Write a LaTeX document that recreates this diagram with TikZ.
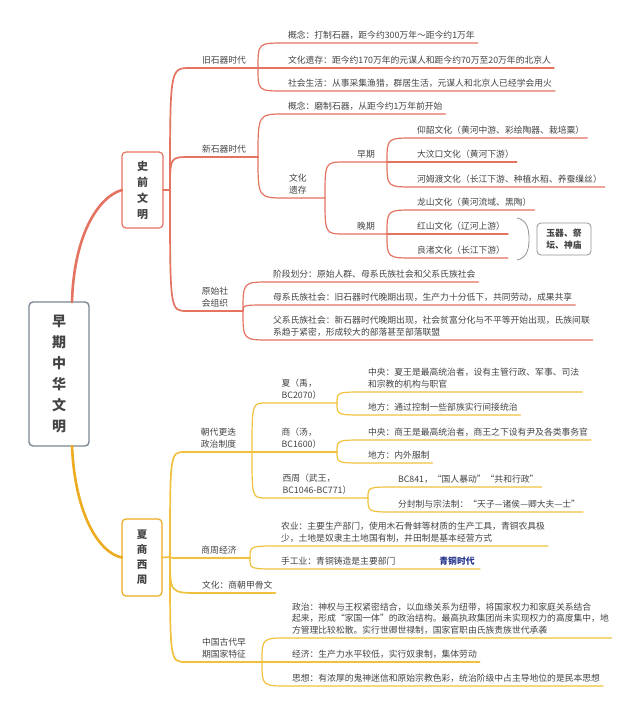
\documentclass[tikz,border=0pt]{standalone}
\usepackage{fontspec}
\setmainfont{Noto Sans CJK SC}
\usetikzlibrary{calc}
\definecolor{redc}{RGB}{229,115,98}
\definecolor{yelc}{RGB}{241,193,62}
\definecolor{orac}{RGB}{237,172,32}
\definecolor{grayc}{RGB}{125,135,150}
\definecolor{txt}{RGB}{68,68,68}
\definecolor{bluec}{RGB}{38,52,140}
\newcommand\leaffont{\fontsize{8.8}{11.5}\selectfont}
\newcommand\twig[3][]{\draw[#1] (#2) .. controls (#2 |- #3.south west) .. (#3.south west) -- (#3.south east);}
\tikzset{
  leaf/.style={anchor=south west, inner xsep=3pt, inner ysep=4pt, outer sep=0pt, align=left, text=txt, font=\leaffont},
  mid/.style={leaf, inner xsep=0pt, align=center},
  box/.style={draw, rounded corners=4pt, fill=white, outer sep=0pt, text=txt, align=center},
  redA/.style={draw=redc, line width=1.7pt, line cap=round},
  redB/.style={draw=redc, line width=1.2pt, line cap=round},
  yelA/.style={draw=yelc, line width=1.7pt, line cap=round},
  yelB/.style={draw=yelc, line width=1.2pt, line cap=round}
}
\begin{document}
\begin{tikzpicture}[x=1pt,y=-1pt]
\fill[white] (0,0) rectangle (640,715);
\useasboundingbox (0,0) rectangle (640,715);

\node[box, draw=grayc, line width=1.4pt, minimum width=60pt, minimum height=144pt, font=\fontsize{14}{21}\selectfont\bfseries] (root) at (59,374) {早\\期\\中\\华\\文\\明};
\node[box, draw=redc, line width=1.2pt, minimum width=41pt, minimum height=76pt, font=\fontsize{11}{16}\selectfont\bfseries] (sq) at (142.5,190) {史\\前\\文\\明};
\node[box, draw=orac, line width=1.2pt, minimum width=40pt, minimum height=77pt, font=\fontsize{10.5}{15}\selectfont\bfseries] (xs) at (142,557.5) {夏\\商\\西\\周};
\coordinate (sqS) at (170,190);
\coordinate (xsS) at (170,557);

\node[mid, minimum width=68pt] (jiu) at (190,68) {旧石器时代};
\node[mid, minimum width=68pt] (xin) at (190,157) {新石器时代};
\node[mid, minimum width=56pt] (ys) at (187,311) {原始社\\会组织};
\node[leaf] (j1) at (285,43) {概念：打制石器，距今约300万年～距今约1万年};
\node[leaf] (j2) at (285,68) {文化遗存：距今约170万年的元谋人和距今约70万至20万年的北京人};
\node[leaf] (j3) at (285,91) {社会生活：从事采集渔猎，群居生活，元谋人和北京人已经学会用火};
\node[leaf] (x1) at (285,114) {概念：磨制石器，从距今约1万年前开始};
\node[leaf, text width=33pt] (wh) at (286,198) {文化\\遗存};
\node[mid, minimum width=42pt] (zao) at (345,162) {早期};
\node[mid, minimum width=42pt] (wan) at (345,234) {晚期};
\node[leaf] (z1) at (414,138) {仰韶文化（黄河中游、彩绘陶器、栽培粟）};
\node[leaf] (z2) at (414,162) {大汶口文化（黄河下游）};
\node[leaf] (z3) at (414,187) {河姆渡文化（长江下游、种植水稻、养蚕缫丝）};
\node[leaf] (w1) at (414,210) {龙山文化（黄河流域、黑陶）};
\node[leaf] (w2) at (414,234) {红山文化（辽河上游）};
\node[leaf] (w3) at (414,258) {良渚文化（长江下游）};
\node[box, draw=gray!85, line width=0.8pt, minimum width=54pt, minimum height=32pt, font=\leaffont\bfseries] (yq) at (564,239) {玉器、祭\\坛、神庙};
\node[leaf] (y1) at (270,282) {阶段划分：原始人群、母系氏族社会和父系氏族社会};
\node[leaf] (y2) at (270,305) {母系氏族社会：旧石器时代晚期出现，生产力十分低下，共同劳动，成果共享};
\node[leaf] (y3) at (270,340) {父系氏族社会：新石器时代晚期出现，社会贫富分化与不平等开始出现，氏族间联\\系趋于紧密，形成较大的部落甚至部落联盟};

\node[mid, minimum width=67pt] (cd) at (185,452) {朝代更迭\\政治制度};
\node[mid, align=left, minimum width=71pt] (xia) at (266,403) {夏（禹，\\BC2070）};
\node[mid, align=left, minimum width=71pt] (shang) at (266,452) {商（汤，\\BC1600）};
\node[mid, align=left, minimum width=102pt] (xz) at (266,498) {西周（武王，\\BC1046-BC771）};
\node[leaf] (xa1) at (365,392) {中央：夏王是最高统治者，设有主管行政、军事、司法\\和宗教的机构与职官};
\node[leaf] (xa2) at (365,415) {地方：通过控制一些部族实行间接统治};
\node[leaf] (sa1) at (365,440) {中央：商王是最高统治者，商王之下设有尹及各类事务官};
\node[leaf] (sa2) at (365,463) {地方：内外服制};
\node[leaf] (za1) at (395,487) {BC841，“国人暴动”“共和行政”};
\node[leaf] (za2) at (395,512) {分封制与宗法制：“天子—诸侯—卿大夫—士”};
\node[mid, minimum width=62pt] (jj) at (188,558) {商周经济};
\node[leaf] (jj1) at (278,546) {农业：主要生产部门，使用木石骨蚌等材质的生产工具，青铜农具极\\少，土地是奴隶主土地国有制，井田制是基本经营方式};
\node[leaf, text width=196pt] (jj2) at (278,569) {手工业：青铜铸造是主要部门};
\node[font=\leaffont\bfseries, text=bluec] (qt) at (457,561) {青铜时代};
\node[leaf] (wh2) at (199,593) {文化：商朝甲骨文};
\node[mid, minimum width=76pt] (tz) at (186,662) {中国古代早\\期国家特征};
\node[leaf] (t1) at (289,638) {政治：神权与王权紧密结合，以血缘关系为纽带，将国家权力和家庭关系结合\\起来，形成“家国一体”的政治结构。最高执政集团尚未实现权力的高度集中，地\\方管理比较松散。实行世卿世禄制，国家官职由氏族贵族世代承袭};
\node[leaf] (t2) at (289,662) {经济：生产力水平较低，实行奴隶制，集体劳动};
\node[leaf] (t3) at (289,686) {思想：有浓厚的鬼神迷信和原始宗教色彩，统治阶级中占主导地位的是民本思想};

\draw[redc, line width=2.6pt, line cap=round] ($(root.north)+(13,0)$) .. controls +(2,-70) and +(-22,6) .. (sq.west);
\draw[orac, line width=2.6pt, line cap=round] ($(root.south)+(13,0)$) .. controls +(3,70) and +(-22,-4) .. (xs.west);
\draw[redA] (sq.east) -- (sqS);
\twig[redA]{sqS}{jiu}
\twig[redA]{sqS}{xin}
\twig[redA]{sqS}{ys}
\twig[redB]{jiu.south east}{j1}
\twig[redB]{jiu.south east}{j2}
\twig[redB]{jiu.south east}{j3}
\twig[redB]{xin.south east}{x1}
\twig[redB]{xin.south east}{wh}
\twig[redB]{wh.south east}{zao}
\twig[redB]{wh.south east}{wan}
\twig[redB]{zao.south east}{z1}
\twig[redB]{zao.south east}{z2}
\twig[redB]{zao.south east}{z3}
\twig[redB]{wan.south east}{w1}
\twig[redB]{wan.south east}{w2}
\twig[redB]{wan.south east}{w3}
\twig[redB]{ys.south east}{y1}
\twig[redB]{ys.south east}{y2}
\twig[redB]{ys.south east}{y3}
\draw[gray!85, line width=0.8pt] ($(yq.west)+(-20,-21)$) .. controls +(9,2) and +(0,-12) .. ($(yq.west)+(-8,0)$) .. controls +(0,12) and +(9,-2) .. ($(yq.west)+(-20,21)$);

\draw[yelA] (xs.east) -- (xsS);
\twig[yelA]{xsS}{cd}
\twig[yelA]{xsS}{jj}
\twig[yelA]{xsS}{wh2}
\twig[yelA]{xsS}{tz}
\twig[yelB]{cd.south east}{xia}
\twig[yelB]{cd.south east}{shang}
\twig[yelB]{cd.south east}{xz}
\twig[yelB]{xia.south east}{xa1}
\twig[yelB]{xia.south east}{xa2}
\twig[yelB]{shang.south east}{sa1}
\twig[yelB]{shang.south east}{sa2}
\twig[yelB]{xz.south east}{za1}
\twig[yelB]{xz.south east}{za2}
\twig[yelB]{jj.south east}{jj1}
\twig[yelB]{jj.south east}{jj2}
\twig[yelB]{tz.south east}{t1}
\twig[yelB]{tz.south east}{t2}
\twig[yelB]{tz.south east}{t3}
\end{tikzpicture}
\end{document}
